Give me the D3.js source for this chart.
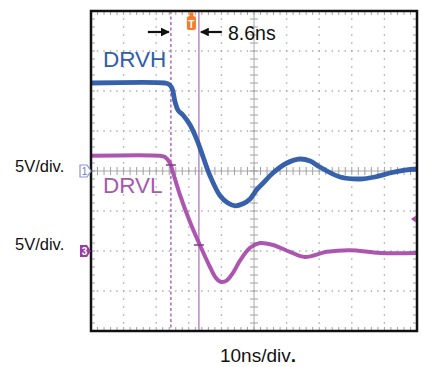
<!DOCTYPE html>
<html>
<head>
<meta charset="utf-8">
<script src="https://cdn.jsdelivr.net/npm/d3@7"></script>
<style>
  body { margin: 0; background: #fff; }
  svg { display: block; font-family: "Liberation Sans", Arial, sans-serif; }
</style>
</head>
<body>
<svg width="422" height="367"></svg>
<script>
// DRVH trace, time (ns) and volts
const drvhT = [0, 22.7, 23.6, 24.8, 25.8, 26.7, 28.2, 30.4, 32.5, 34.4, 36.5, 39.6, 42.0, 44.2, 46.6, 48.8, 50.9, 52.8, 55.8, 60.1, 64.1, 67.2, 70.2, 76.4, 82.5, 87.1, 91.7, 96.3, 100];
const drvhV = [11.0, 11.0, 10.9, 10.4, 8.6, 7.6, 7.0, 5.75, 3.9, 1.75, -0.6, -3.1, -4.0, -4.35, -4.1, -3.5, -2.3, -1.5, -0.25, 1.0, 1.5, 1.25, 0.5, -0.75, -1.0, -0.75, -0.25, 0.1, 0.25];

// DRVL trace
const drvlT = [0, 21.2, 22.7, 24.2, 25.2, 27.3, 30.4, 33.4, 36.5, 38.2, 39.8, 41.6, 43.6, 45.7, 48.8, 51.8, 55.8, 61.0, 65.6, 72.4, 79.4, 88.7, 100];
const drvlV = [11.9, 11.9, 11.75, 11.0, 9.75, 7.0, 3.6, 0.75, -2.0, -3.3, -3.85, -3.7, -2.7, -1.2, 0.4, 1.0, 0.75, -0.1, -0.75, -0.1, 0.1, -0.25, -0.25];

// cursors and trigger (ns)
const cursorT = [24.5, 33.1];
const cursorMarkV = [10.75, 0.75];
const triggerT = 30.8;

// channel offsets (volts, 5V/div)
const chOffset = { DRVH: 0, DRVL: -10 };

const svg = d3.select("svg");

const x = d3.scaleLinear().domain([0, 100]).range([91, 417]);
const y = d3.scaleLinear().domain([-20, 20]).range([331, 11]);

const blue = "#2c58a6", purple = "#a548a8", cursorCol = "#b472c4";

// grid
const grid = svg.append("g");
const xDiv = d3.range(10, 100, 10), yDiv = d3.range(-15, 20, 5);
const xMinor = d3.range(0, 100.01, 2), yMinor = d3.range(-20, 20.01, 1);

// dotted horizontal grid lines
yDiv.filter(v => v !== 0).forEach(v => {
  grid.selectAll(null).data(xMinor).enter().append("rect")
    .attr("x", d => x(d) - 0.7).attr("y", y(v) - 0.7)
    .attr("width", 1.4).attr("height", 1.4).attr("fill", "#a4a4a4");
});
// dotted vertical grid lines
xDiv.filter(v => v !== 50).forEach(v => {
  grid.selectAll(null).data(yMinor).enter().append("rect")
    .attr("x", x(v) - 0.7).attr("y", d => y(d) - 0.7)
    .attr("width", 1.4).attr("height", 1.4).attr("fill", "#a4a4a4");
});

// center axes with minor ticks
grid.append("line").attr("x1", x(0)).attr("x2", x(100)).attr("y1", y(0)).attr("y2", y(0))
  .attr("stroke", "#a8a8a8").attr("stroke-width", 1);
grid.append("line").attr("x1", x(50)).attr("x2", x(50)).attr("y1", y(20)).attr("y2", y(-20))
  .attr("stroke", "#a8a8a8").attr("stroke-width", 1);
grid.selectAll(null).data(xMinor).enter().append("line")
  .attr("x1", d => x(d)).attr("x2", d => x(d))
  .attr("y1", y(0) - 4).attr("y2", y(0) + 4)
  .attr("stroke", "#a0a0a0").attr("stroke-width", 1);
grid.selectAll(null).data(yMinor).enter().append("line")
  .attr("x1", x(50) - 4).attr("x2", x(50) + 4)
  .attr("y1", d => y(d)).attr("y2", d => y(d))
  .attr("stroke", "#a0a0a0").attr("stroke-width", 1);

// border ticks
grid.selectAll(null).data(xMinor).enter().append("line")
  .attr("x1", d => x(d)).attr("x2", d => x(d)).attr("y1", y(20)).attr("y2", y(20) + 4)
  .attr("stroke", "#a0a0a0");
grid.selectAll(null).data(xMinor).enter().append("line")
  .attr("x1", d => x(d)).attr("x2", d => x(d)).attr("y1", y(-20)).attr("y2", y(-20) - 4)
  .attr("stroke", "#a0a0a0");
grid.selectAll(null).data(yMinor).enter().append("line")
  .attr("x1", x(0)).attr("x2", x(0) + 4).attr("y1", d => y(d)).attr("y2", d => y(d))
  .attr("stroke", "#a0a0a0");
grid.selectAll(null).data(yMinor).enter().append("line")
  .attr("x1", x(100)).attr("x2", x(100) - 4).attr("y1", d => y(d)).attr("y2", d => y(d))
  .attr("stroke", "#a0a0a0");

// cursors
svg.append("line")
  .attr("x1", x(cursorT[0])).attr("x2", x(cursorT[0])).attr("y1", y(20)).attr("y2", y(-20))
  .attr("stroke", cursorCol).attr("stroke-width", 1.6).attr("stroke-dasharray", "3,2.5");
svg.append("line")
  .attr("x1", x(cursorT[1])).attr("x2", x(cursorT[1])).attr("y1", y(20)).attr("y2", y(-20))
  .attr("stroke", cursorCol).attr("stroke-width", 1.3);

// traces
const line = d3.line().curve(d3.curveCatmullRom.alpha(0.5));
const drvhPts = drvhT.map((t, i) => [x(t), y(drvhV[i] + chOffset.DRVH)]);
const drvlPts = drvlT.map((t, i) => [x(t), y(drvlV[i] + chOffset.DRVL)]);

svg.append("path").attr("d", line(drvlPts)).attr("fill", "none")
  .attr("stroke", purple).attr("stroke-width", 4).attr("stroke-linejoin", "round").attr("opacity", 0.92);
svg.append("path").attr("d", line(drvhPts)).attr("fill", "none")
  .attr("stroke", blue).attr("stroke-width", 4.8).attr("stroke-linejoin", "round").attr("opacity", 0.95);

// cursor crossing marks
svg.selectAll(null).data(cursorT).enter().append("line")
  .attr("x1", d => x(d) - 5).attr("x2", d => x(d) + 5)
  .attr("y1", (d, i) => y(cursorMarkV[i] + chOffset.DRVL))
  .attr("y2", (d, i) => y(cursorMarkV[i] + chOffset.DRVL))
  .attr("stroke", "#8a3a8e").attr("stroke-width", 1.5);

// frame
svg.append("rect").attr("x", x(0)).attr("y", y(20))
  .attr("width", x(100) - x(0)).attr("height", y(-20) - y(20))
  .attr("fill", "none").attr("stroke", "#111").attr("stroke-width", 2.5);

// trigger marker
const tx = x(triggerT);
svg.append("path")
  .attr("d", `M${tx - 2},${y(20) + 1}L${tx + 2},${y(20) + 1}L${tx + 2},${y(20) + 5}L${tx + 4.5},${y(20) + 6}L${tx + 4.5},${y(20) + 17}Q${tx + 4.5},${y(20) + 19} ${tx + 2.5},${y(20) + 19}L${tx - 2.5},${y(20) + 19}Q${tx - 4.5},${y(20) + 19} ${tx - 4.5},${y(20) + 17}L${tx - 4.5},${y(20) + 6}L${tx - 2},${y(20) + 5}Z`)
  .attr("fill", "#ef7d2c");
svg.append("text").attr("x", tx).attr("y", y(20) + 16.5).attr("text-anchor", "middle")
  .attr("font-size", 10).attr("font-weight", "bold").attr("fill", "#fff").text("T");

// delta arrows
svg.append("defs").append("marker").attr("id", "ah")
  .attr("viewBox", "0 0 10 10").attr("refX", 9).attr("refY", 5)
  .attr("markerWidth", 4).attr("markerHeight", 4).attr("orient", "auto-start-reverse")
  .append("path").attr("d", "M0,0L10,5L0,10Z").attr("fill", "#111");
svg.append("line").attr("x1", x(cursorT[0]) - 23).attr("x2", x(cursorT[0]) - 2)
  .attr("y1", 32).attr("y2", 32).attr("stroke", "#111").attr("stroke-width", 2.2).attr("marker-end", "url(#ah)");
svg.append("line").attr("x1", x(cursorT[1]) + 23).attr("x2", x(cursorT[1]) + 2)
  .attr("y1", 32).attr("y2", 32).attr("stroke", "#111").attr("stroke-width", 2.2).attr("marker-end", "url(#ah)");
svg.append("text").attr("x", 228).attr("y", 39.5).attr("font-size", 19.5).attr("fill", "#111").text("8.6ns");

// trace labels
svg.append("text").attr("x", 103).attr("y", 67).attr("font-size", 22.5).attr("fill", "#2f5eaa").text("DRVH");
svg.append("text").attr("x", 103).attr("y", 193).attr("font-size", 22.5).attr("fill", "#a55aab").text("DRVL");

// channel ground markers
const gm = (yy) => `M80,${yy - 6}L87,${yy - 6}L91,${yy}L87,${yy + 6}L80,${yy + 6}Z`;
svg.append("path").attr("d", gm(y(chOffset.DRVH)))
  .attr("fill", "#fff").attr("stroke", "#8b93d6").attr("stroke-width", 1.2);
svg.append("text").attr("x", 84.5).attr("y", y(chOffset.DRVH) + 4).attr("text-anchor", "middle")
  .attr("font-size", 10).attr("fill", "#6f78c8").text("1");
svg.append("path").attr("d", gm(y(chOffset.DRVL))).attr("fill", "#9a3fa2");
svg.append("text").attr("x", 84.5).attr("y", y(chOffset.DRVL) + 4).attr("text-anchor", "middle")
  .attr("font-size", 10).attr("font-weight", "bold").attr("fill", "#fff").text("3");

// trigger level arrow
svg.append("path").attr("d", `M${x(100) - 6},${y(-6)}L${x(100) - 1},${y(-6) - 3.5}L${x(100) - 1},${y(-6) + 3.5}Z`)
  .attr("fill", "#a64aa8");

// scale labels
svg.append("text").attr("x", 15).attr("y", 172).attr("font-size", 16.5).attr("fill", "#111").text("5V/div.");
svg.append("text").attr("x", 15).attr("y", 250).attr("font-size", 16.5).attr("fill", "#111").text("5V/div.");
const xl = svg.append("text").attr("x", 258).attr("y", 362).attr("text-anchor", "middle")
  .attr("font-size", 19).attr("fill", "#111");
xl.append("tspan").text("10ns/div");
xl.append("tspan").attr("font-weight", "bold").text(".");
</script>
</body>
</html>
